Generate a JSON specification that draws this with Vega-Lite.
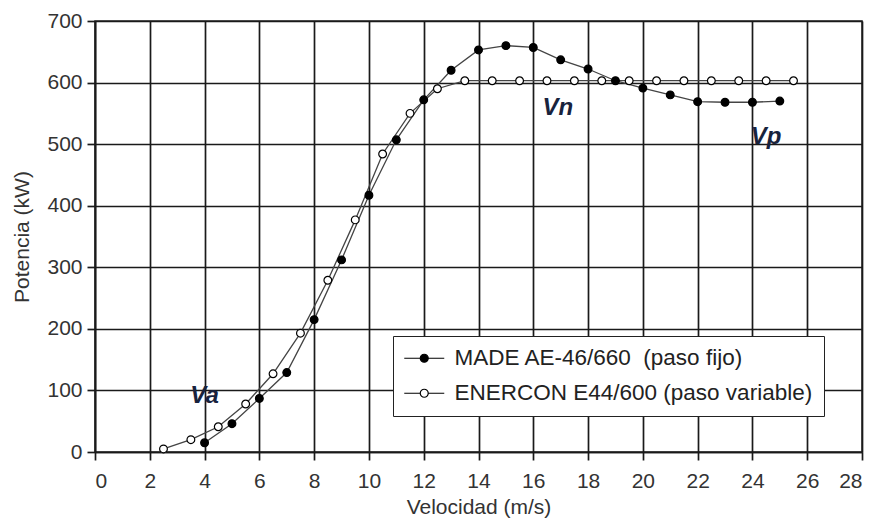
{
  "$schema": "https://vega.github.io/schema/vega-lite/v6.json",
  "width": 767,
  "height": 431,
  "autosize": {"type": "none"},
  "padding": {"left": 95, "top": 21, "right": 15, "bottom": 72},
  "background": "white",
  "datasets": {
    "curves": [
      {"serie": "MADE AE-46/660\u00a0 (paso fijo)", "v": 4, "p": 15},
      {"serie": "MADE AE-46/660\u00a0 (paso fijo)", "v": 5, "p": 46},
      {"serie": "MADE AE-46/660\u00a0 (paso fijo)", "v": 6, "p": 87},
      {"serie": "MADE AE-46/660\u00a0 (paso fijo)", "v": 7, "p": 129},
      {"serie": "MADE AE-46/660\u00a0 (paso fijo)", "v": 8, "p": 215},
      {"serie": "MADE AE-46/660\u00a0 (paso fijo)", "v": 9, "p": 312},
      {"serie": "MADE AE-46/660\u00a0 (paso fijo)", "v": 10, "p": 417},
      {"serie": "MADE AE-46/660\u00a0 (paso fijo)", "v": 11, "p": 507},
      {"serie": "MADE AE-46/660\u00a0 (paso fijo)", "v": 12, "p": 572},
      {"serie": "MADE AE-46/660\u00a0 (paso fijo)", "v": 13, "p": 620},
      {"serie": "MADE AE-46/660\u00a0 (paso fijo)", "v": 14, "p": 653},
      {"serie": "MADE AE-46/660\u00a0 (paso fijo)", "v": 15, "p": 660},
      {"serie": "MADE AE-46/660\u00a0 (paso fijo)", "v": 16, "p": 657},
      {"serie": "MADE AE-46/660\u00a0 (paso fijo)", "v": 17, "p": 637},
      {"serie": "MADE AE-46/660\u00a0 (paso fijo)", "v": 18, "p": 622},
      {"serie": "MADE AE-46/660\u00a0 (paso fijo)", "v": 19, "p": 603},
      {"serie": "MADE AE-46/660\u00a0 (paso fijo)", "v": 20, "p": 591},
      {"serie": "MADE AE-46/660\u00a0 (paso fijo)", "v": 21, "p": 580},
      {"serie": "MADE AE-46/660\u00a0 (paso fijo)", "v": 22, "p": 569},
      {"serie": "MADE AE-46/660\u00a0 (paso fijo)", "v": 23, "p": 568},
      {"serie": "MADE AE-46/660\u00a0 (paso fijo)", "v": 24, "p": 568},
      {"serie": "MADE AE-46/660\u00a0 (paso fijo)", "v": 25, "p": 570},
      {"serie": "ENERCON E44/600 (paso variable)", "v": 2.5, "p": 5},
      {"serie": "ENERCON E44/600 (paso variable)", "v": 3.5, "p": 20},
      {"serie": "ENERCON E44/600 (paso variable)", "v": 4.5, "p": 41},
      {"serie": "ENERCON E44/600 (paso variable)", "v": 5.5, "p": 78},
      {"serie": "ENERCON E44/600 (paso variable)", "v": 6.5, "p": 127},
      {"serie": "ENERCON E44/600 (paso variable)", "v": 7.5, "p": 193},
      {"serie": "ENERCON E44/600 (paso variable)", "v": 8.5, "p": 279},
      {"serie": "ENERCON E44/600 (paso variable)", "v": 9.5, "p": 377},
      {"serie": "ENERCON E44/600 (paso variable)", "v": 10.5, "p": 484},
      {"serie": "ENERCON E44/600 (paso variable)", "v": 11.5, "p": 550},
      {"serie": "ENERCON E44/600 (paso variable)", "v": 12.5, "p": 590},
      {"serie": "ENERCON E44/600 (paso variable)", "v": 13.5, "p": 603},
      {"serie": "ENERCON E44/600 (paso variable)", "v": 14.5, "p": 603},
      {"serie": "ENERCON E44/600 (paso variable)", "v": 15.5, "p": 603},
      {"serie": "ENERCON E44/600 (paso variable)", "v": 16.5, "p": 603},
      {"serie": "ENERCON E44/600 (paso variable)", "v": 17.5, "p": 603},
      {"serie": "ENERCON E44/600 (paso variable)", "v": 18.5, "p": 603},
      {"serie": "ENERCON E44/600 (paso variable)", "v": 19.5, "p": 603},
      {"serie": "ENERCON E44/600 (paso variable)", "v": 20.5, "p": 603},
      {"serie": "ENERCON E44/600 (paso variable)", "v": 21.5, "p": 603},
      {"serie": "ENERCON E44/600 (paso variable)", "v": 22.5, "p": 603},
      {"serie": "ENERCON E44/600 (paso variable)", "v": 23.5, "p": 603},
      {"serie": "ENERCON E44/600 (paso variable)", "v": 24.5, "p": 603},
      {"serie": "ENERCON E44/600 (paso variable)", "v": 25.5, "p": 603}
    ],
    "labels": [
      {"t": "Va", "v": 4.0, "p": 79},
      {"t": "Vn", "v": 16.9, "p": 547},
      {"t": "Vp", "v": 24.5, "p": 501}
    ]
  },
  "config": {
    "font": "Liberation Sans",
    "view": {"stroke": "#222", "strokeWidth": 1.5},
    "axis": {
      "grid": true,
      "gridColor": "#1a1a1a",
      "gridWidth": 1.7,
      "gridOpacity": 1,
      "domainColor": "#1a1a1a",
      "domainWidth": 1.7,
      "tickColor": "#1a1a1a",
      "tickWidth": 1.7,
      "tickSize": 8,
      "labelFont": "Liberation Sans",
      "labelFontSize": 21,
      "labelColor": "#333",
      "titleFont": "Liberation Sans",
      "titleFontSize": 21,
      "titleFontWeight": "normal",
      "titleColor": "#333"
    }
  },
  "layer": [
    {
      "data": {"name": "curves"},
      "mark": {"type": "line", "stroke": "#444", "strokeWidth": 1.3},
      "encoding": {
        "x": {
          "field": "v", "type": "quantitative",
          "scale": {"domain": [0, 28], "nice": false, "zero": false},
          "axis": {"values": [0, 2, 4, 6, 8, 10, 12, 14, 16, 18, 20, 22, 24, 26, 28], "title": "Velocidad (m/s)", "labelPadding": 10, "titlePadding": 5}
        },
        "y": {
          "field": "p", "type": "quantitative",
          "scale": {"domain": [0, 700], "nice": false},
          "axis": {"values": [0, 100, 200, 300, 400, 500, 600, 700], "title": "Potencia (kW)", "labelPadding": 5, "titlePadding": 14}
        },
        "detail": {"field": "serie"}
      }
    },
    {
      "data": {"name": "curves"},
      "mark": {"type": "point", "filled": true, "shape": "circle", "stroke": "black", "strokeWidth": 1.2, "size": 60, "opacity": 1},
      "encoding": {
        "x": {"field": "v", "type": "quantitative"},
        "y": {"field": "p", "type": "quantitative"},
        "fill": {
          "field": "serie", "type": "nominal",
          "scale": {"domain": ["MADE AE-46/660\u00a0 (paso fijo)", "ENERCON E44/600 (paso variable)"], "range": ["black", "white"]},
          "legend": {
            "title": null,
            "orient": "none",
            "legendX": 298,
            "legendY": 315,
            "padding": 11,
            "fillColor": "white",
            "strokeColor": "#222",
            "symbolType": "M-2,0L-0.4,0M0.4,0L2,0M0.4,0A0.4,0.4,0,1,1,-0.4,0A0.4,0.4,0,1,1,0.4,0Z",
            "symbolSize": 400,
            "symbolOffset": 9,
            "symbolStrokeColor": "black",
            "symbolStrokeWidth": 1.2,
            "symbolOpacity": 1,
            "labelFont": "Liberation Sans",
            "labelFontSize": 22.5,
            "labelColor": "#222",
            "labelOffset": 19,
            "labelLimit": 0,
            "rowPadding": 12
          }
        }
      }
    },
    {
      "data": {"name": "labels"},
      "mark": {"type": "text", "font": "Liberation Sans", "fontSize": 24, "fontWeight": "bold", "fontStyle": "italic", "color": "#18233d", "align": "center", "baseline": "alphabetic"},
      "encoding": {
        "x": {"field": "v", "type": "quantitative"},
        "y": {"field": "p", "type": "quantitative"},
        "text": {"field": "t"}
      }
    }
  ]
}
